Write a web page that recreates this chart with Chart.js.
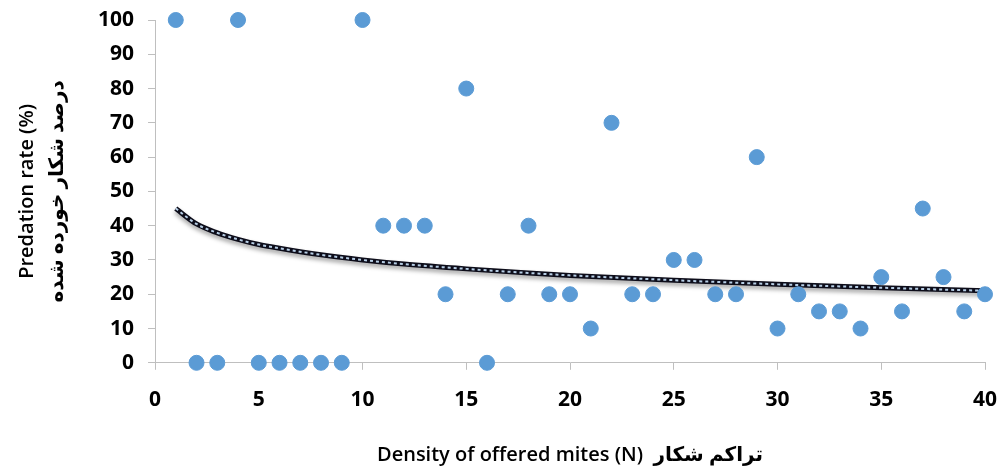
<!DOCTYPE html>
<html>
<head>
<meta charset="utf-8">
<script src="https://cdn.jsdelivr.net/npm/chart.js@4.4.1/dist/chart.umd.min.js"></script>
<style>
  html, body { margin: 0; padding: 0; background: #fff; }
  #wrap { width: 1002px; height: 471px; }
</style>
</head>
<body>
<div id="wrap"><canvas id="predationChart"></canvas></div>
<script>
// Predation rate vs. density of offered mites
const densities = [1, 2, 3, 4, 5, 6, 7, 8, 9, 10,
                   11, 12, 13, 14, 15, 16, 17, 18, 19, 20,
                   21, 22, 23, 24, 25, 26, 27, 28, 29, 30,
                   31, 32, 33, 34, 35, 36, 37, 38, 39, 40];
const predation = [100, 0, 0, 100, 0, 0, 0, 0, 0, 100,
                   40, 40, 40, 20, 80, 0, 20, 40, 20, 20,
                   10, 70, 20, 20, 30, 30, 20, 20, 60, 10,
                   20, 15, 15, 10, 25, 15, 45, 25, 15, 20];

// trend curve
const trendX = [1, 2, 3, 4, 5, 6, 8, 10, 12, 15, 18, 20, 25, 30, 35, 40];
const trendY = [45, 40.5, 37.9, 36, 34.5, 33.4, 31.5, 30, 28.8, 27.4, 26.2, 25.5, 24.1, 22.9, 21.9, 21];

const yTicks = [0, 10, 20, 30, 40, 50, 60, 70, 80, 90, 100];
const xTicks = [0, 5, 10, 15, 20, 25, 30, 35, 40];

const fontFamily = "'Open Sans', 'DejaVu Sans', sans-serif";
const axisGray = '#bfbfbf';

const toPoints = (xs, ys) => xs.map((x, i) => ({ x: x, y: ys[i] }));

// soft shadow under the trend line
const trendShadow = {
    id: 'trendShadow',
    beforeDatasetDraw(chart, args) {
        if (args.meta.dataset && chart.data.datasets[args.index].shadow) {
            const ctx = chart.ctx;
            ctx.save();
            ctx.shadowColor = 'rgba(0, 0, 0, 0.35)';
            ctx.shadowBlur = 4;
            ctx.shadowOffsetY = 3;
        }
    },
    afterDatasetDraw(chart, args) {
        if (args.meta.dataset && chart.data.datasets[args.index].shadow) {
            chart.ctx.restore();
        }
    }
};

new Chart(document.getElementById('predationChart'), {
    type: 'scatter',
    data: {
        datasets: [
            {
                label: 'Predation rate',
                data: toPoints(densities, predation),
                backgroundColor: '#5b9bd5',
                borderColor: '#5b9bd5',
                pointRadius: 7.5,
                pointHoverRadius: 7.5,
                clip: false,
                order: 1
            },
            {
                label: 'Trend dashes',
                type: 'line',
                data: toPoints(trendX, trendY),
                borderColor: '#b8cfe6',
                borderWidth: 2,
                borderDash: [3, 3],
                pointRadius: 0,
                cubicInterpolationMode: 'monotone',
                fill: false,
                order: 2
            },
            {
                label: 'Trend',
                type: 'line',
                data: toPoints(trendX, trendY),
                borderColor: '#0d0d1a',
                borderWidth: 5,
                pointRadius: 0,
                cubicInterpolationMode: 'monotone',
                fill: false,
                shadow: true,
                order: 3
            }
        ]
    },
    options: {
        responsive: true,
        maintainAspectRatio: false,
        animation: false,
        layout: { autoPadding: false, padding: { top: 20, right: 17, left: 12, bottom: 4 } },
        plugins: {
            legend: { display: false },
            tooltip: { enabled: false }
        },
        scales: {
            x: {
                type: 'linear',
                min: 0,
                max: 40,
                afterBuildTicks: (axis) => { axis.ticks = xTicks.map(v => ({ value: v })); },
                afterFit: (axis) => { axis.paddingLeft = 0; axis.paddingRight = 0; },
                grid: { drawOnChartArea: false, color: axisGray, tickLength: 7 },
                border: { color: axisGray },
                ticks: {
                    color: '#000',
                    padding: 18,
                    maxRotation: 0,
                    font: { family: fontFamily, size: 21, weight: 'bold' }
                },
                title: {
                    display: true,
                    text: 'Density of offered mites (N)  تراکم شکار',
                    color: '#000',
                    padding: { top: 12, bottom: 0 },
                    font: { family: fontFamily, size: 20, weight: 600 }
                }
            },
            y: {
                min: 0,
                max: 100,
                afterBuildTicks: (axis) => { axis.ticks = yTicks.map(v => ({ value: v })); },
                afterFit: (axis) => { axis.paddingTop = 0; axis.paddingBottom = 0; },
                grid: { drawOnChartArea: false, color: axisGray, tickLength: 7 },
                border: { color: axisGray },
                ticks: {
                    color: '#000',
                    padding: 14,
                    font: { family: fontFamily, size: 21, weight: 'bold' }
                },
                title: {
                    display: true,
                    text: ['Predation rate (%)', 'درصد شکار خورده شده'],
                    color: '#000',
                    padding: { top: 0, bottom: 12 },
                    font: { family: fontFamily, size: 20, weight: 600, lineHeight: 1.5 }
                }
            }
        }
    },
    plugins: [trendShadow]
});
</script>
</body>
</html>
